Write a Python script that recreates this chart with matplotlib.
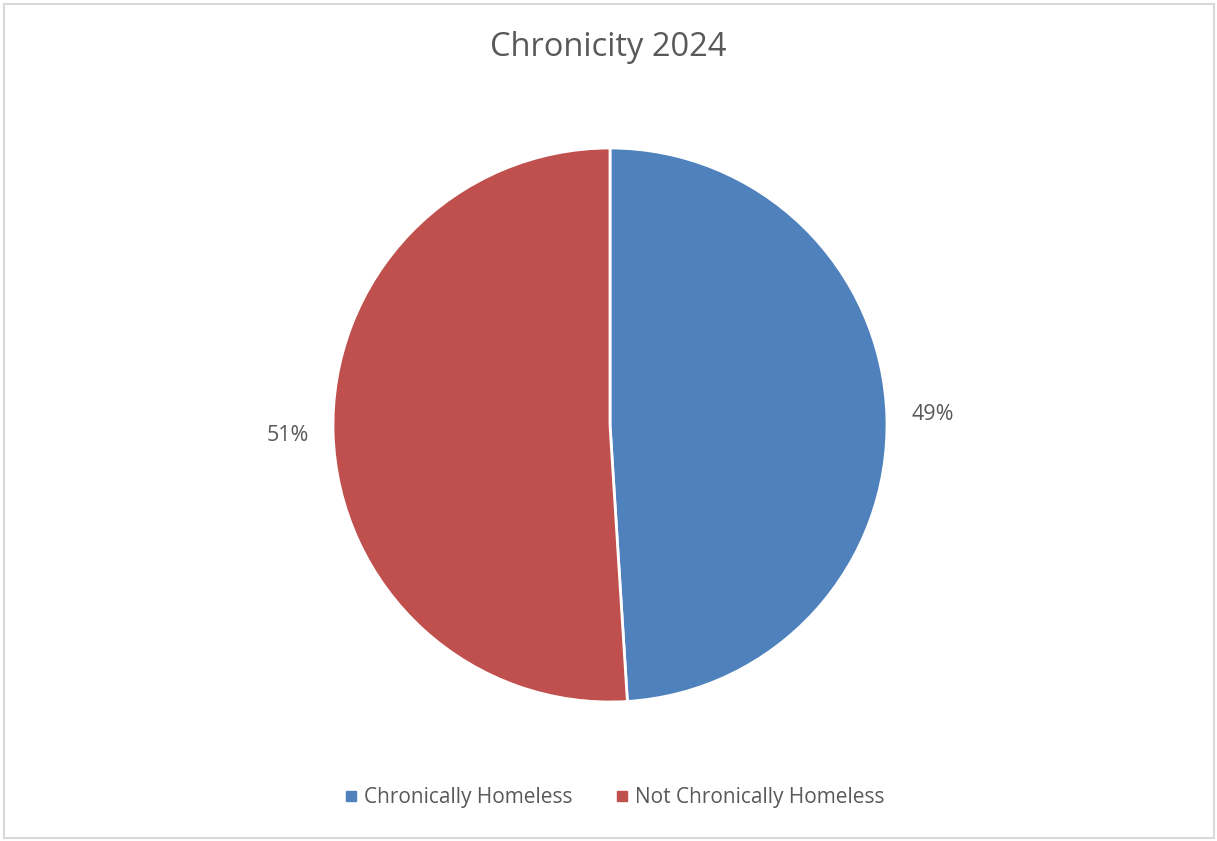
import matplotlib
matplotlib.use("Agg")
import matplotlib.pyplot as plt
from matplotlib.lines import Line2D
from matplotlib.patches import Rectangle

# data
categories = ["Chronically Homeless", "Not Chronically Homeless"]
shares = [49, 51]
colors = ["#4F81BD", "#C0504D"]
title = "Chronicity 2024"

plt.rcParams['font.family'] = ['Open Sans', 'DejaVu Sans']
TEXT = "#595959"

W, H = 1217, 841
fig = plt.figure(figsize=(W / 100, H / 100), dpi=100)
fig.patch.set_facecolor("white")

# chart area border
fig.add_artist(Rectangle((4 / W, 3 / H), 1210 / W, 834 / H, transform=fig.transFigure,
                         fill=False, edgecolor="#D9D9D9", linewidth=1.5))

# pie, centre (610, 425) px, radius 277 px
cx, cy, r = 610, 425, 277
ax = fig.add_axes([(cx - r) / W, (H - cy - r) / H, 2 * r / W, 2 * r / H])
wedges, texts = ax.pie(
    shares,
    colors=colors,
    startangle=90,
    counterclock=False,
    radius=1,
    labels=[f"{v}%" for v in shares],
    labeldistance=1.165,
    wedgeprops=dict(edgecolor="white", linewidth=2),
    textprops=dict(color=TEXT, fontsize=15.5),
)
for t in texts:
    t.set_ha("center")
    t.set_va("center")
ax.set_xlim(-1, 1)
ax.set_ylim(-1, 1)
ax.set_aspect("auto")
ax.axis("off")

fig.text(0.5, 1 - 48 / H, title, ha="center", va="center", fontsize=23.5, color=TEXT)

handles = [Line2D([], [], marker="s", linestyle="", markersize=6.5,
                  markerfacecolor=c, markeredgecolor=c) for c in colors]
fig.legend(handles, categories, loc="center", bbox_to_anchor=(0.5 + 6 / W, 1 - 798 / H),
           ncol=2, frameon=False, fontsize=15, labelcolor=TEXT,
           handletextpad=0.3, columnspacing=2.1, handlelength=0.6)

fig.savefig("out.png", dpi=100)
